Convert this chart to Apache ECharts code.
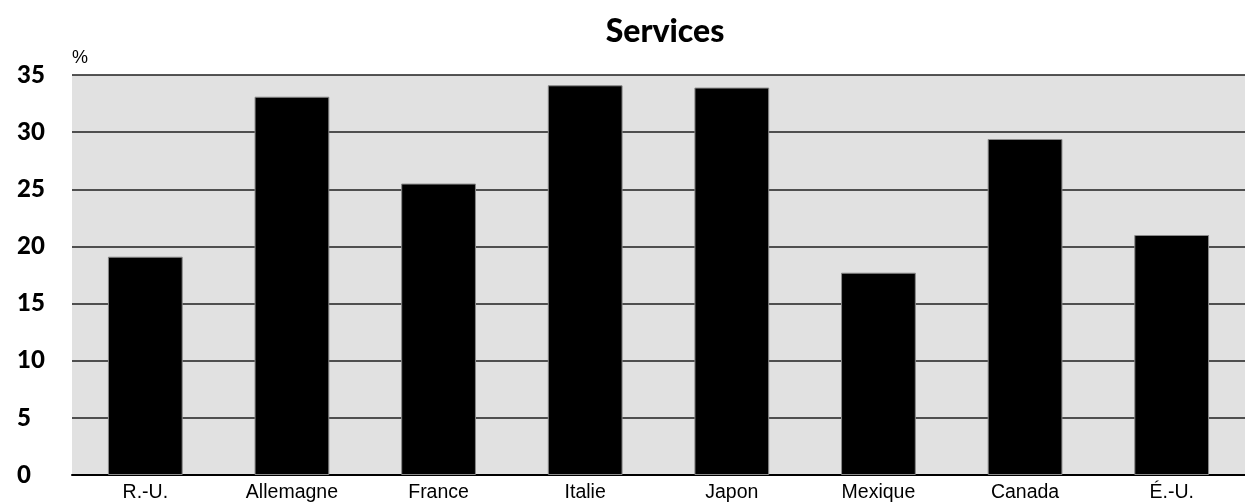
<!DOCTYPE html>
<html>
<head>
<meta charset="utf-8">
<style>
  html, body { margin: 0; padding: 0; background: #ffffff; }
  #chart { width: 1245px; height: 503px; }
</style>
<script src="https://cdn.jsdelivr.net/npm/echarts@6/dist/echarts.min.js"></script>
</head>
<body>
<div id="chart"></div>
<script>
// Part des services (%) par pays
const categories = ['R.-U.', 'Allemagne', 'France', 'Italie', 'Japon', 'Mexique', 'Canada', 'É.-U.'];
const values = [19.1, 33.1, 25.5, 34.1, 33.9, 17.7, 29.4, 21.0];
const yTicks = [0, 5, 10, 15, 20, 25, 30, 35];

const chart = echarts.init(document.getElementById('chart'), null, { renderer: 'canvas' });

chart.setOption({
  animation: false,
  backgroundColor: '#ffffff',
  title: {
    text: 'Services',
    left: 660,
    top: 11,
    textAlign: 'center',
    textStyle: {
      fontFamily: 'Lato',
      fontWeight: 900,
      fontSize: 32,
      color: '#000000'
    }
  },
  grid: {
    left: 72,
    top: 75,
    width: 1176,
    height: 401,
    show: true,
    backgroundColor: '#e1e1e1',
    borderWidth: 0
  },
  xAxis: {
    type: 'category',
    data: categories,
    axisLine: { show: true, lineStyle: { color: '#000000', width: 2 } },
    axisTick: { show: false },
    axisLabel: {
      margin: 8,
      fontFamily: 'Liberation Sans',
      fontSize: 19.5,
      color: '#000000'
    }
  },
  yAxis: {
    type: 'value',
    min: yTicks[0],
    max: yTicks[yTicks.length - 1],
    interval: 5,
    name: '%',
    nameLocation: 'end',
    nameGap: 8,
    nameTextStyle: {
      align: 'left',
      fontFamily: 'Liberation Sans',
      fontSize: 18,
      color: '#000000',
      padding: [0, 0, 0, 0]
    },
    axisLine: { show: false },
    axisTick: { show: false },
    axisLabel: {
      align: 'left',
      margin: 55,
      fontFamily: 'Lato',
      fontWeight: 900,
      fontSize: 24,
      color: '#000000'
    },
    splitLine: { show: true, lineStyle: { color: '#1e1e1e', width: 1.6 } }
  },
  series: [{
    type: 'bar',
    data: values,
    barCategoryGap: '49%',
    itemStyle: {
      color: '#000000',
      borderColor: '#8a8a8a',
      borderWidth: 1
    }
  }]
});
</script>
</body>
</html>
